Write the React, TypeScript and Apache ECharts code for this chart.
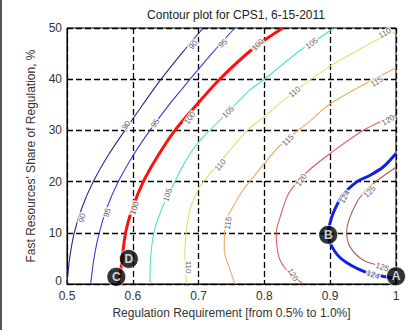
import React, { useEffect, useRef } from "react";
import * as echarts from "echarts";

const titleText = "Contour plot for CPS1, 6-15-2011";
const xName = "Regulation Requirement [from 0.5% to 1.0%]";
const yName = "Fast Resources' Share of Regulation, %";

const levels = ["90", "95", "100", "105", "110", "115", "120", "124", "125"];
const levelColors = ["#26268a", "#3a3ad6", "#ff1010", "#4fe3c4", "#cfe86a", "#f2a860", "#e05a5a", "#1020e8", "#a86050"];
const levelWidths = [1.1, 1.1, 3, 1.1, 1.1, 1.1, 1.1, 3, 1.1];

const c90 = [[0.5, 0], [0.504, 5], [0.511, 10], [0.523, 15], [0.54, 20], [0.562, 25], [0.588, 30], [0.615, 35], [0.643, 40], [0.674, 45], [0.707, 50]];
const c95 = [[0.536, 0], [0.541, 5], [0.549, 10], [0.561, 15], [0.578, 20], [0.6, 25], [0.626, 30], [0.655, 35], [0.687, 40], [0.72, 45], [0.755, 50]];
const c100 = [[0.578, 0], [0.582, 3], [0.589, 10], [0.6, 15], [0.616, 20], [0.638, 25], [0.664, 30], [0.697, 35], [0.732, 40], [0.783, 46], [0.828, 50]];
const c105 = [[0.626, 0], [0.627, 5], [0.632, 10], [0.645, 15], [0.664, 20], [0.68, 24], [0.702, 28], [0.748, 34], [0.778, 37.9], [0.8, 40], [0.858, 46], [0.89, 48.6], [0.905, 50]];
const c110 = [[0.682, 0], [0.679, 5], [0.681, 10], [0.688, 15], [0.702, 19], [0.728, 23.2], [0.75, 26.5], [0.774, 30], [0.798, 32.5], [0.839, 36.9], [0.898, 42.4], [0.94, 45.5], [0.976, 48], [1, 49.2]];
const c115 = [[0.755, 0], [0.748, 2.7], [0.739, 6.6], [0.74, 11.9], [0.752, 15], [0.768, 18.4], [0.798, 23.2], [0.824, 27.1], [0.869, 31.8], [0.898, 35], [0.956, 39.3], [1, 42.2]];
const c120 = [[0.859, 0], [0.834, 2.7], [0.822, 5.3], [0.818, 10], [0.824, 13.1], [0.836, 17.5], [0.852, 20.2], [0.872, 22.7], [0.9, 25.5], [0.95, 30], [1, 33]];
const c124 = [[1, 25.5], [0.98, 22.8], [0.96, 21.2], [0.941, 20], [0.92, 17.5], [0.905, 14], [0.898, 11], [0.897, 9.6], [0.903, 7.2], [0.918, 4.8], [0.95, 2.5], [0.98, 1.5], [1, 1]];
const c125 = [[1, 22.8], [0.96, 19], [0.938, 15.4], [0.925, 10.2], [0.93, 7.3], [0.95, 4.7], [0.98, 3.4], [1, 2.7]];
const contours = [c90, c95, c100, c105, c110, c115, c120, c124, c125];

// contour labels: [x, y, text, rotation]
const contourLabels: [number, number, string, number][] = [
  [0.692, 46.7, "90", 50], [0.59, 31, "90", 55], [0.523, 12.9, "90", 75],
  [0.737, 47, "95", 45], [0.634, 31.4, "95", 55], [0.561, 13.9, "95", 72],
  [0.79, 46.7, "100", 45], [0.687, 32.4, "100", 55], [0.603, 14.8, "100", 72],
  [0.872, 47, "105", 35], [0.745, 33.6, "105", 45], [0.653, 17.4, "105", 72],
  [0.983, 49, "110", 30], [0.846, 37.5, "110", 40], [0.733, 23.2, "110", 50], [0.684, 3.3, "110", -90],
  [0.971, 39.5, "115", 30], [0.836, 28.1, "115", 45], [0.745, 11.9, "115", 82],
  [0.988, 32, "120", 30], [0.856, 20.3, "120", 55], [0.843, 1.8, "120", -60],
  [0.922, 17, "124", 60], [0.965, 1.8, "124", -20],
  [0.96, 18, "125", 45], [0.979, 3.3, "125", -20],
];

const markerPoints: [number, number, string][] = [
  [1, 1.5, "A"], [0.897, 9.6, "B"], [0.575, 1.4, "C"], [0.594, 4.9, "D"],
];

const xTicks = [0.5, 0.6, 0.7, 0.8, 0.9, 1];
const yTicks = [0, 10, 20, 30, 40, 50];

const FONT = "Liberation Sans, Arial, sans-serif";

export default function App() {
  const ref = useRef<HTMLDivElement>(null);
  useEffect(() => {
    document.body.style.margin = "0";
    const chart = echarts.init(ref.current!, null, { renderer: "svg" });
    const lineSeries = contours.map((c, i) => ({
      type: "line",
      name: levels[i],
      data: c,
      showSymbol: false,
      smooth: 0.3,
      lineStyle: { color: levelColors[i], width: levelWidths[i] },
      z: 3,
    }));
    chart.setOption({
      animation: false,
      title: {
        text: titleText,
        left: 231,
        textAlign: "center",
        top: 4,
        textStyle: { fontSize: 12, fontWeight: "normal", color: "#222", fontFamily: FONT },
      },
      grid: { left: 67, top: 28, width: 329, height: 256, show: true, borderColor: "#000", borderWidth: 1, backgroundColor: "#fff" },
      xAxis: {
        type: "value",
        min: xTicks[0],
        max: xTicks[xTicks.length - 1],
        interval: 0.1,
        name: xName,
        nameLocation: "middle",
        nameGap: 23,
        nameTextStyle: { fontSize: 12, color: "#333", fontFamily: FONT },
        axisLine: { show: true, lineStyle: { color: "#000" } },
        axisTick: { show: false },
        axisLabel: { fontSize: 12, color: "#333", fontFamily: FONT, margin: 6 },
        splitLine: { show: true, lineStyle: { color: "#000", type: [6, 3], width: 1.3 } },
      },
      yAxis: {
        type: "value",
        min: yTicks[0],
        max: yTicks[yTicks.length - 1],
        interval: 10,
        name: yName,
        nameLocation: "middle",
        nameGap: 30,
        nameTextStyle: { fontSize: 12, color: "#333", fontFamily: FONT },
        axisLine: { show: true, lineStyle: { color: "#000" } },
        axisTick: { show: false },
        axisLabel: {
          fontSize: 12,
          color: "#333",
          fontFamily: FONT,
          margin: 5,
          formatter: (v: number) => (v === 0 ? "{z|0}" : String(v)),
          rich: { z: { fontSize: 12, color: "#333", fontFamily: FONT, padding: [0, 0, 7, 0] } },
        },
        splitLine: { show: true, lineStyle: { color: "#000", type: [6, 3], width: 1.3 } },
      },
      series: [
        ...lineSeries,
        {
          type: "scatter",
          symbolSize: 0,
          z: 5,
          data: contourLabels.map((l) => ({
            value: [l[0], l[1], l[2]],
            label: { rotate: l[3] },
          })),
          label: {
            show: true,
            position: "inside",
            formatter: (p: any) => p.value[2],
            fontSize: 8,
            color: "#333",
            fontFamily: FONT,
            backgroundColor: "#fff",
            padding: [0, 1],
          },
        },
        {
          type: "scatter",
          symbol: "circle",
          symbolSize: 19,
          z: 10,
          itemStyle: { color: "#000", borderColor: "#fff", borderWidth: 1 },
          data: markerPoints.map((m) => [m[0], m[1], m[2]]),
          label: {
            show: true,
            position: "inside",
            formatter: (p: any) => p.value[2],
            fontSize: 12,
            fontWeight: "bold",
            color: "#fff",
            fontFamily: FONT,
          },
        },
      ],
      graphic: [
        { type: "rect", left: 0, top: 0, shape: { width: 2, height: 330 }, style: { fill: "#555" } },
      ],
    });
    return () => chart.dispose();
  }, []);
  return <div ref={ref} style={{ width: 414, height: 330 }} />;
}
